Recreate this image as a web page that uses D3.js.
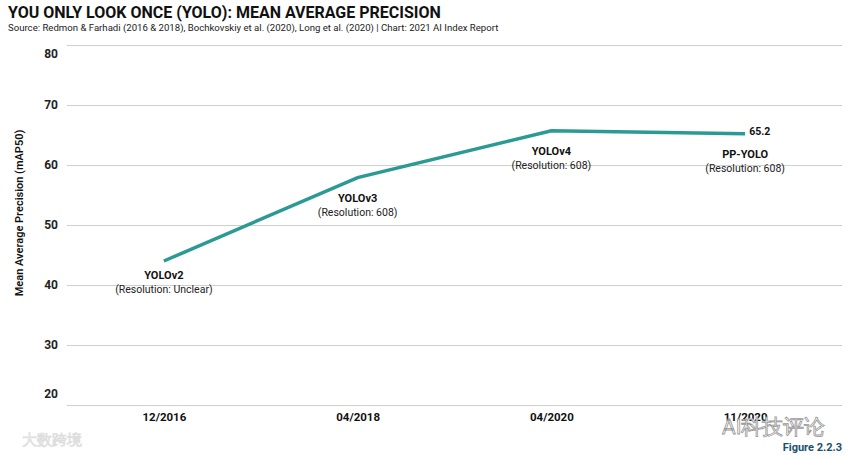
<!DOCTYPE html>
<html>
<head>
<meta charset="utf-8">
<script src="https://cdn.jsdelivr.net/npm/d3@7"></script>
<style>
  body { margin: 0; background: #fff; }
  svg text { font-family: "Roboto", "Noto Sans", sans-serif; }
  .grid line { stroke: #cfcfcf; stroke-width: 1; }
  .grid path { display: none; }
</style>
</head>
<body>
<div id="chart-area"></div>
<script>
const dates = ["12/2016", "04/2018", "04/2020", "11/2020"];
const models = ["YOLOv2", "YOLOv3", "YOLOv4", "PP-YOLO"];
const resolutions = ["(Resolution: Unclear)", "(Resolution: 608)", "(Resolution: 608)", "(Resolution: 608)"];
const map50 = [44.0, 57.9, 65.7, 65.2];
const yTicks = [20, 30, 40, 50, 60, 70, 80];

const chartSize = {width: 854, height: 460};
const margin = {left: 67, right: 12, top: 45, bottom: 55};
const width = chartSize.width - margin.left - margin.right;
const height = chartSize.height - margin.top - margin.bottom;

const points = dates.map((d, i) => ({date: d, model: models[i], res: resolutions[i], value: map50[i]}));

const svg = d3.select("#chart-area")
    .append("svg")
    .attr("width", chartSize.width)
    .attr("height", chartSize.height);

svg.append("text")
    .attr("x", 8).attr("y", 18)
    .attr("font-size", 16).attr("font-weight", 700).attr("fill", "#111")
    .text("YOU ONLY LOOK ONCE (YOLO): MEAN AVERAGE PRECISION");

svg.append("text")
    .attr("x", 8).attr("y", 31)
    .attr("font-size", 9.6).attr("fill", "#222")
    .text("Source: Redmon & Farhadi (2016 & 2018), Bochkovskiy et al. (2020), Long et al. (2020) | Chart: 2021 AI Index Report");

const g = svg.append("g").attr("transform", `translate(${margin.left}, ${margin.top})`);

const x = d3.scalePoint().domain(dates).range([0, width]).padding(0.5);
const y = d3.scaleLinear().domain([20, 80]).range([height, 0]);

// gridlines + y labels
const yAxis = g.append("g")
    .attr("class", "grid")
    .call(d3.axisLeft(y).tickValues(yTicks).tickSize(-width).tickPadding(9));
yAxis.selectAll("text")
    .attr("font-size", 12).attr("font-weight", 700).attr("fill", "#222")
    .attr("dy", d => d === 80 ? "1.05em" : d === 20 ? "-0.6em" : "0.32em");

g.append("text")
    .attr("transform", "rotate(-90)")
    .attr("x", -height / 2 + 12).attr("y", -44)
    .attr("text-anchor", "middle")
    .attr("font-size", 11).attr("font-weight", 600).attr("fill", "#111")
    .text("Mean Average Precision (mAP50)");

// x labels
const xAxis = g.append("g")
    .attr("transform", `translate(0, ${height})`)
    .call(d3.axisBottom(x).tickSize(0).tickPadding(8));
xAxis.select(".domain").remove();
xAxis.selectAll("text")
    .attr("font-size", 11.5).attr("font-weight", 700).attr("fill", "#111");

// line
const line = d3.line().x(d => x(d.date)).y(d => y(d.value));
g.append("path")
    .datum(points)
    .attr("fill", "none")
    .attr("stroke", "#2b9a94")
    .attr("stroke-width", 3.5)
    .attr("d", line);

// annotations
const ann = g.selectAll(".ann").data(points).enter().append("g")
    .attr("class", "ann")
    .attr("transform", d => `translate(${x(d.date)}, ${y(d.value)})`);
ann.append("text")
    .attr("y", (d, i) => i === 0 ? 18 : 24).attr("text-anchor", "middle")
    .attr("font-size", 11).attr("font-weight", 700).attr("fill", "#111")
    .text(d => d.model);
ann.append("text")
    .attr("y", (d, i) => i === 0 ? 32 : 38).attr("text-anchor", "middle")
    .attr("font-size", 10.5).attr("fill", "#222")
    .text(d => d.res);

const last = points[points.length - 1];
g.append("text")
    .attr("x", x(last.date) + 4).attr("y", y(last.value) + 1)
    .attr("font-size", 10.5).attr("font-weight", 700).attr("fill", "#111")
    .text(d3.format(".1f")(last.value));

svg.append("text")
    .attr("x", 842).attr("y", 451).attr("text-anchor", "end")
    .attr("font-size", 11).attr("font-weight", 700).attr("fill", "#1b4f6e")
    .text("Figure 2.2.3");

// watermarks
svg.append("text")
    .attr("x", 722).attr("y", 434)
    .attr("font-family", "Noto Sans CJK SC").attr("font-size", 21)
    .attr("fill", "#fff").attr("stroke", "#999").attr("stroke-width", 0.8)
    .text("AI科技评论");
svg.append("text")
    .attr("x", 22).attr("y", 445)
    .attr("font-family", "Noto Sans CJK SC").attr("font-size", 15)
    .attr("fill", "#fff").attr("stroke", "#ddd").attr("stroke-width", 0.8)
    .text("大数跨境");
</script>
</body>
</html>
